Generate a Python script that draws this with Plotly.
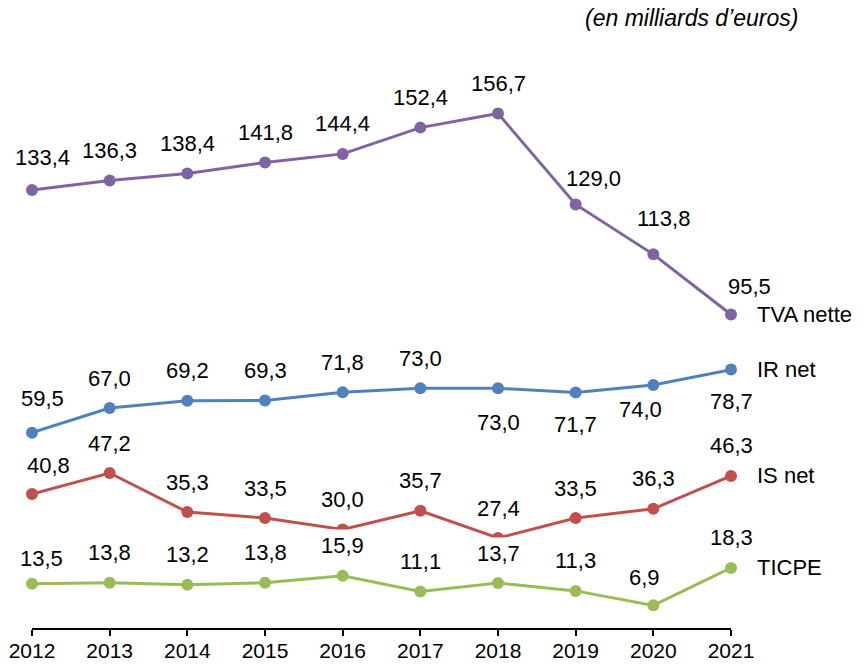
import plotly.graph_objects as go

years = [2012, 2013, 2014, 2015, 2016, 2017, 2018, 2019, 2020, 2021]
tva_nette = [133.4, 136.3, 138.4, 141.8, 144.4, 152.4, 156.7, 129.0, 113.8, 95.5]
ir_net = [59.5, 67.0, 69.2, 69.3, 71.8, 73.0, 73.0, 71.7, 74.0, 78.7]
is_net = [40.8, 47.2, 35.3, 33.5, 30.0, 35.7, 27.4, 33.5, 36.3, 46.3]
ticpe = [13.5, 13.8, 13.2, 13.8, 15.9, 11.1, 13.7, 11.3, 6.9, 18.3]
series_names = ["TVA nette", "IR net", "IS net", "TICPE"]
unit_note = "(en milliards d’euros)"

colors = {"TVA nette": "#8064A2", "IR net": "#4F81BD", "IS net": "#C0504D", "TICPE": "#9BBB59"}
FONT = "Arial, Liberation Sans, sans-serif"
FS = 22

# label offsets (dx, dy) in pixels, dy positive = above point; default (0, 30)
label_offsets = {
    "TVA nette": {0: (10, 33), 7: (18, 26), 8: (10, 36), 9: (18, 28)},
    "IR net": {0: (10, 34), 6: (0, -34), 7: (0, -32), 8: (-13, -24), 9: (0, -32)},
    "IS net": {0: (16, 29)},
    "TICPE": {0: (9, 25), 8: (-9, 28)},
}

data = {"TVA nette": tva_nette, "IR net": ir_net, "IS net": is_net, "TICPE": ticpe}

fig = go.Figure()
annotations = []
for name in series_names:
    vals = data[name]
    fig.add_trace(go.Scatter(
        x=years, y=vals, mode="lines+markers", name=name,
        line=dict(color=colors[name], width=3),
        marker=dict(color=colors[name], size=12),
        cliponaxis=False, showlegend=False, hoverinfo="skip",
    ))
    offs = label_offsets.get(name, {})
    for i, (yr, v) in enumerate(zip(years, vals)):
        dx, dy = offs.get(i, (0, 30))
        annotations.append(dict(
            x=yr, y=v, xref="x", yref="y", text=f"{v:.1f}".replace(".", ","),
            showarrow=False, xshift=dx, yshift=dy, xanchor="center", yanchor="middle",
            font=dict(family=FONT, size=FS, color="black"),
            bgcolor="white" if name == "TICPE" else None, borderpad=3,
        ))
    annotations.append(dict(
        x=years[-1], y=vals[-1], xref="x", yref="y", text=name,
        showarrow=False, xshift=24, xanchor="left", yanchor="middle",
        font=dict(family=FONT, size=FS, color="black"),
    ))

annotations.append(dict(
    x=1.0987, y=1.032, xref="paper", yref="paper", text=f"<i>{unit_note}</i>",
    showarrow=False, xanchor="right", yanchor="middle",
    font=dict(family=FONT, size=23, color="black"),
))

fig.update_layout(
    width=865, height=666,
    margin=dict(l=32, r=134, t=37, b=38, autoexpand=False),
    paper_bgcolor="white", plot_bgcolor="white",
    annotations=annotations,
    xaxis=dict(
        range=[2012, 2021], tickmode="array", tickvals=years,
        ticktext=[str(y) for y in years], automargin=False,
        showline=True, linecolor="black", linewidth=2,
        ticks="outside", ticklen=6, tickwidth=2, tickcolor="black",
        ticklabelstandoff=-3,
        showgrid=False, zeroline=False,
        tickfont=dict(family=FONT, size=21, color="black"),
    ),
    yaxis=dict(
        range=[0, 180], showline=False, showticklabels=False, ticks="",
        showgrid=False, zeroline=False, automargin=False,
    ),
)

fig.write_html(
    "out.html",
    config={"displayModeBar": False},
    post_script="document.body.style.margin='0';document.body.style.overflow='hidden';",
)
